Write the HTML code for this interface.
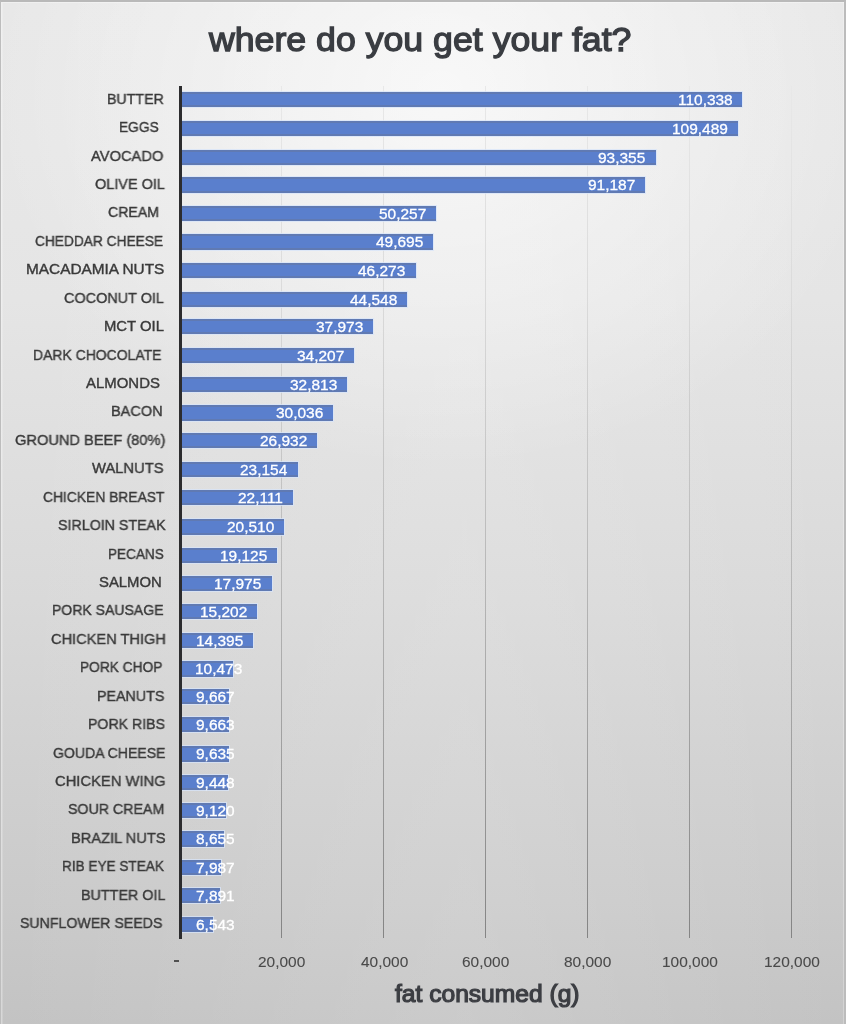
<!DOCTYPE html>
<html><head><meta charset="utf-8"><style>
*{margin:0;padding:0;box-sizing:border-box}
html,body{width:846px;height:1024px;overflow:hidden}
body{position:relative;font-family:"Liberation Sans",sans-serif;
background:
 radial-gradient(ellipse 450px 380px at 440px 90px, rgba(255,255,255,0.66), rgba(255,255,255,0) 100%),
 linear-gradient(to right, rgba(255,255,255,0) 0px, rgba(255,255,255,0.13) 465px, rgba(255,255,255,0) 846px),
 linear-gradient(to bottom,#e8e8e8 0px,#e7e7e7 150px,#e5e5e5 300px,#d9d9d9 600px,#cacaca 900px,#c3c3c3 1024px);}
.brd{position:absolute;left:0;top:0;width:846px;height:1024px;border-top:2px solid #b9b9b9;border-left:1.5px solid #bdbdbd;border-right:2px solid #bcbcbc;box-shadow:inset 1.5px 1px 0 rgba(255,255,255,0.35),inset -1px 0 0 rgba(255,255,255,0.25)}
.title{position:absolute;will-change:transform;left:209.40px;top:22.74px;font-size:33.5px;line-height:33.5px;color:#3a3d42;-webkit-text-stroke:1.3px #3a3d42;white-space:nowrap;transform:scaleX(1.0650);transform-origin:0 0}
.xt{position:absolute;will-change:transform;left:394.53px;top:982.91px;font-size:23.5px;line-height:23.5px;color:#3c3e43;-webkit-text-stroke:1.2px #3c3e43;white-space:nowrap;transform:scaleX(1.0464);transform-origin:0 0}
.ax{position:absolute;left:179px;top:86px;width:2.5px;height:852.5px;background:#2c2c2e}
.g{position:absolute;top:86px;width:1px;height:851.5px;background:linear-gradient(to bottom,#e8e8e8,#dadada 25%,#b4b4b4 60%,#848484)}
.b{position:absolute;left:180px;height:15.4px;background:#5a7fcd;border-top:2px solid #607ab3;border-bottom:2px solid #607ab3;box-shadow:0 0 0 1px rgba(215,228,250,.75)}
.c{position:absolute;will-change:transform;font-size:14.8px;line-height:14.8px;color:#3a3a3a;white-space:nowrap;-webkit-text-stroke:0.4px #3a3a3a;transform-origin:0 0}
.v{position:absolute;will-change:transform;font-size:15.3px;line-height:15.3px;color:#fff;white-space:nowrap;-webkit-text-stroke:0.3px #fff;transform:scaleX(1.01);transform-origin:0 0}
.t{position:absolute;will-change:transform;font-size:15.3px;line-height:15.3px;color:#4a4a4a;white-space:nowrap;-webkit-text-stroke:0.1px #4a4a4a;transform:scaleX(1.01);transform-origin:0 0}
.dash{position:absolute;left:174px;top:960.3px;width:5.2px;height:1.8px;background:#505050}
</style></head><body>
<div class="brd"></div>
<div class="title">where do you get your fat?</div>
<div class="g" style="left:281.4px"></div>
<div class="g" style="left:383.3px"></div>
<div class="g" style="left:485.2px"></div>
<div class="g" style="left:587.2px"></div>
<div class="g" style="left:689.1px"></div>
<div class="g" style="left:791.1px"></div>
<div class="b" style="top:91.80px;width:562.35px"></div>
<div class="c" style="top:91.66px;left:106.75px;transform:scaleX(0.9599)">BUTTER</div>
<div class="v" style="top:91.89px;left:677.56px">110,338</div>
<div class="b" style="top:120.70px;width:558.02px"></div>
<div class="c" style="top:120.09px;left:119.39px;transform:scaleX(0.9267)">EGGS</div>
<div class="v" style="top:120.79px;left:672.22px">109,489</div>
<div class="b" style="top:149.50px;width:475.78px"></div>
<div class="c" style="top:148.52px;left:91.40px;transform:scaleX(0.9917)">AVOCADO</div>
<div class="v" style="top:149.59px;left:598.47px">93,355</div>
<div class="b" style="top:177.20px;width:464.73px"></div>
<div class="c" style="top:176.95px;left:95.02px;transform:scaleX(0.9773)">OLIVE OIL</div>
<div class="v" style="top:177.29px;left:587.52px">91,187</div>
<div class="b" style="top:205.70px;width:256.09px"></div>
<div class="c" style="top:205.38px;left:108.23px;transform:scaleX(0.9553)">CREAM</div>
<div class="v" style="top:205.79px;left:378.87px">50,257</div>
<div class="b" style="top:234.40px;width:253.22px"></div>
<div class="c" style="top:233.81px;left:34.85px;transform:scaleX(0.9270)">CHEDDAR CHEESE</div>
<div class="v" style="top:234.49px;left:375.91px">49,695</div>
<div class="b" style="top:263.10px;width:235.78px"></div>
<div class="c" style="top:262.24px;left:25.75px;transform:scaleX(1.0388)">MACADAMIA NUTS</div>
<div class="v" style="top:263.19px;left:358.47px">46,273</div>
<div class="b" style="top:291.70px;width:226.98px"></div>
<div class="c" style="top:290.67px;left:63.52px;transform:scaleX(0.9744)">COCONUT OIL</div>
<div class="v" style="top:291.79px;left:349.67px">44,548</div>
<div class="b" style="top:319.00px;width:193.47px"></div>
<div class="c" style="top:319.10px;left:103.50px;transform:scaleX(1.0034)">MCT OIL</div>
<div class="v" style="top:319.09px;left:316.16px">37,973</div>
<div class="b" style="top:347.80px;width:174.27px"></div>
<div class="c" style="top:347.53px;left:33.27px;transform:scaleX(0.9435)">DARK CHOCOLATE</div>
<div class="v" style="top:347.89px;left:297.06px">34,207</div>
<div class="b" style="top:376.70px;width:167.16px"></div>
<div class="c" style="top:375.96px;left:85.50px;transform:scaleX(1.0097)">ALMONDS</div>
<div class="v" style="top:376.79px;left:289.85px">32,813</div>
<div class="b" style="top:405.40px;width:153.01px"></div>
<div class="c" style="top:404.39px;left:110.92px;transform:scaleX(0.9801)">BACON</div>
<div class="v" style="top:405.49px;left:275.70px">30,036</div>
<div class="b" style="top:432.70px;width:137.19px"></div>
<div class="c" style="top:432.82px;left:15.01px;transform:scaleX(0.9887)">GROUND BEEF (80%)</div>
<div class="v" style="top:432.79px;left:259.98px">26,932</div>
<div class="b" style="top:461.60px;width:117.93px"></div>
<div class="c" style="top:461.25px;left:92.20px;transform:scaleX(0.9958)">WALNUTS</div>
<div class="v" style="top:461.69px;left:240.41px">23,154</div>
<div class="b" style="top:490.00px;width:112.61px"></div>
<div class="c" style="top:489.68px;left:43.35px;transform:scaleX(0.9348)">CHICKEN BREAST</div>
<div class="v" style="top:490.09px;left:237.62px">22,111</div>
<div class="b" style="top:519.30px;width:104.45px"></div>
<div class="c" style="top:518.11px;left:57.63px;transform:scaleX(0.9622)">SIRLOIN STEAK</div>
<div class="v" style="top:519.39px;left:227.14px">20,510</div>
<div class="b" style="top:547.70px;width:97.39px"></div>
<div class="c" style="top:546.54px;left:107.80px;transform:scaleX(0.9169)">PECANS</div>
<div class="v" style="top:547.79px;left:220.08px">19,125</div>
<div class="b" style="top:575.50px;width:91.53px"></div>
<div class="c" style="top:574.97px;left:99.30px;transform:scaleX(1.0050)">SALMON</div>
<div class="v" style="top:575.59px;left:214.22px">17,975</div>
<div class="b" style="top:603.80px;width:77.39px"></div>
<div class="c" style="top:603.40px;left:52.06px;transform:scaleX(0.9482)">PORK SAUSAGE</div>
<div class="v" style="top:603.89px;left:200.18px">15,202</div>
<div class="b" style="top:632.50px;width:73.28px"></div>
<div class="c" style="top:631.83px;left:50.81px;transform:scaleX(0.9860)">CHICKEN THIGH</div>
<div class="v" style="top:632.59px;left:195.97px">14,395</div>
<div class="b" style="top:661.40px;width:53.29px"></div>
<div class="c" style="top:660.26px;left:79.69px;transform:scaleX(0.9274)">PORK CHOP</div>
<div class="v" style="top:661.49px;left:195.34px">10,473</div>
<div class="b" style="top:688.75px;width:49.18px"></div>
<div class="c" style="top:688.69px;left:96.64px;transform:scaleX(0.9647)">PEANUTS</div>
<div class="v" style="top:688.84px;left:195.74px">9,667</div>
<div class="b" style="top:717.00px;width:49.16px"></div>
<div class="c" style="top:717.12px;left:88.15px;transform:scaleX(0.9555)">PORK RIBS</div>
<div class="v" style="top:717.09px;left:195.74px">9,663</div>
<div class="b" style="top:746.40px;width:49.01px"></div>
<div class="c" style="top:745.55px;left:52.54px;transform:scaleX(0.9497)">GOUDA CHEESE</div>
<div class="v" style="top:746.49px;left:195.74px">9,635</div>
<div class="b" style="top:774.70px;width:48.06px"></div>
<div class="c" style="top:773.98px;left:55.00px;transform:scaleX(0.9963)">CHICKEN WING</div>
<div class="v" style="top:774.79px;left:195.74px">9,448</div>
<div class="b" style="top:802.80px;width:46.39px"></div>
<div class="c" style="top:802.41px;left:67.83px;transform:scaleX(0.9604)">SOUR CREAM</div>
<div class="v" style="top:802.89px;left:195.74px">9,120</div>
<div class="b" style="top:831.24px;width:44.02px"></div>
<div class="c" style="top:830.84px;left:70.51px;transform:scaleX(0.9893)">BRAZIL NUTS</div>
<div class="v" style="top:831.33px;left:195.84px">8,655</div>
<div class="b" style="top:859.68px;width:40.61px"></div>
<div class="c" style="top:859.27px;left:62.10px;transform:scaleX(0.9180)">RIB EYE STEAK</div>
<div class="v" style="top:859.77px;left:195.64px">7,987</div>
<div class="b" style="top:887.70px;width:40.12px"></div>
<div class="c" style="top:887.70px;left:81.14px;transform:scaleX(0.9684)">BUTTER OIL</div>
<div class="v" style="top:887.79px;left:195.64px">7,891</div>
<div class="b" style="top:916.60px;width:33.25px"></div>
<div class="c" style="top:916.13px;left:19.93px;transform:scaleX(0.9566)">SUNFLOWER SEEDS</div>
<div class="v" style="top:916.69px;left:195.64px">6,543</div>
<div class="t" style="top:953.53px;left:258.37px">20,000</div>
<div class="t" style="top:953.53px;left:360.52px">40,000</div>
<div class="t" style="top:953.53px;left:462.21px">60,000</div>
<div class="t" style="top:953.53px;left:564.27px">80,000</div>
<div class="t" style="top:953.53px;left:661.67px">100,000</div>
<div class="t" style="top:953.53px;left:763.62px">120,000</div>
<div class="ax"></div>
<div class="dash"></div>
<div class="xt">fat consumed (g)</div>
</body></html>
